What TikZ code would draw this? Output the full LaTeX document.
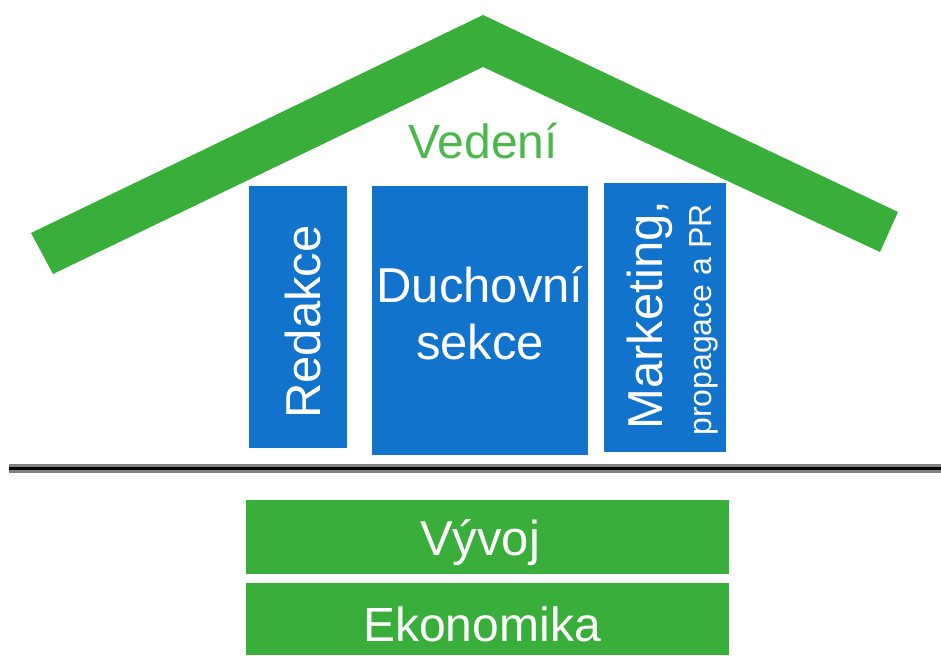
\documentclass[tikz,border=0pt]{standalone}
\usepackage{fontspec}
\setmainfont{Liberation Sans}
\definecolor{roofgreen}{RGB}{58,174,58}
\definecolor{labelgreen}{RGB}{76,184,76}
\definecolor{pillarblue}{RGB}{18,115,204}
\definecolor{rulegray}{RGB}{128,128,128}
\begin{document}
\begin{tikzpicture}[x=1pt,y=-1pt,
  pillar/.style={fill=pillarblue,draw=none,inner sep=0pt,outer sep=0pt},
  base/.style={fill=roofgreen,draw=none,inner sep=0pt,outer sep=0pt},
  boxtext/.style={text=white,inner sep=0pt,anchor=base},
  bigfont/.style={font=\fontsize{49}{49}\selectfont},
  smallfont/.style={font=\fontsize{32}{32}\selectfont}]
\useasboundingbox (0,0) rectangle (941,655);

% roof
\fill[roofgreen] (483,15) -- (31,233) -- (53,274) -- (483,67) -- (880,252) -- (898,212) -- cycle;
\node[boxtext,text=labelgreen,font=\fontsize{48}{48}\selectfont] (vedeni) at (483,159) {Vedení};

% pillars
\node[pillar,minimum width=98pt,minimum height=262pt] (redakce) at (298,317) {};
\node[pillar,minimum width=216pt,minimum height=269pt] (duchovni) at (480,320.5) {};
\node[pillar,minimum width=122pt,minimum height=269pt] (marketing) at (665,317.5) {};

\node[boxtext,bigfont,rotate=90] (redakcetext) at (320,322) {Redakce};
\node[boxtext,bigfont] (duch1) at (480,302) {Duchovní};
\node[boxtext,bigfont] (duch2) at (480,359) {sekce};
\node[boxtext,bigfont,rotate=90] (mark1) at (662,315) {Marketing,};
\node[boxtext,smallfont,rotate=90] (mark2) at (711,320) {propagace a PR};

% ground line
\fill[rulegray] (9,464) rectangle (941,473);
\fill[black] (9,467) rectangle (941,470);

% foundation
\node[base,minimum width=483pt,minimum height=74pt] (vyvoj) at (487.5,537) {};
\node[base,minimum width=483pt,minimum height=72pt] (ekonomika) at (487.5,619) {};
\node[boxtext,bigfont] (vyvojtext) at (480,555) {Vývoj};
\node[boxtext,font=\fontsize{48}{48}\selectfont] (ekontext) at (482,641) {Ekonomika};
\end{tikzpicture}
\end{document}
